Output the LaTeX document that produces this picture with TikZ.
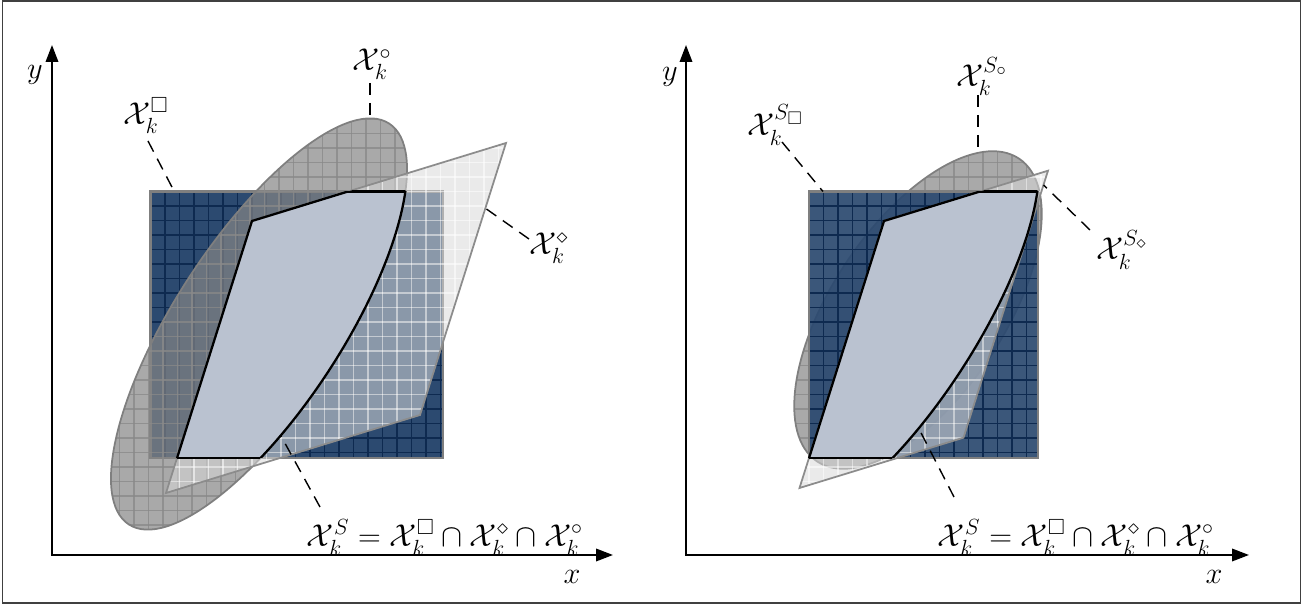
\documentclass[tikz,border=0pt]{standalone}
\usepackage{amsmath,amssymb}
\usetikzlibrary{arrows.meta}
\definecolor{navy}{HTML}{2C4A70}
\definecolor{navygrid}{HTML}{0E2A50}
\definecolor{elcol}{HTML}{858585}
\definecolor{elgridcol}{HTML}{8A8A8A}
\definecolor{pacol}{HTML}{D9D9D9}
\definecolor{intcol}{HTML}{BAC2D0}
\definecolor{bordercol}{HTML}{7F7F7F}
\newcommand{\mygrid}[3]{%
  \foreach \n in {-9,...,31} {\draw[#3] ({#1+\n*14.5},0) -- ({#1+\n*14.5},600);}%
  \foreach \n in {-13,...,29} {\draw[#3] ({#1-140},{#2-\n*14.5}) -- ({#1+460},{#2-\n*14.5});}%
}
\begin{document}
\begin{tikzpicture}[x=0.02cm,y=0.02cm,
  axis/.style={line width=1.1pt,{Triangle[length=0.34cm,width=0.25cm]}-{Triangle[length=0.34cm,width=0.25cm]}},
  leader/.style={line width=0.8pt,dash pattern=on 0.24cm off 0.16cm},
  lbl/.style={font=\LARGE,inner sep=0pt,scale=1.04},
  axlbl/.style={font=\LARGE,inner sep=0pt},
  sqgrid/.style={draw=navygrid,line width=0.6pt},
  elgrid/.style={draw=elgridcol,line width=0.6pt,draw opacity=0.8},
  pagrid/.style={draw=white,line width=0.6pt,draw opacity=0.55},
  sqborder/.style={draw=bordercol,line width=1.2pt},
  elborder/.style={draw=bordercol,line width=1pt},
  paborder/.style={draw=black!45,line width=1pt},
  intfill/.style={fill=intcol},
  intline/.style={draw=black,line width=1.3pt}]
\useasboundingbox (0,0) rectangle (1303,605);
\draw[line width=0.8pt,black!75] (2.5,2) rectangle (1300.5,604);

\def\sqL{(150.5,147) rectangle (443,413.5)}
\def\elL{(259,281) circle[x radius=239,y radius=84,rotate=57]}
\def\paraL{(166,112) -- (420,190) -- (506,462) -- (252,384) -- cycle}
\def\sqR{(809,147) rectangle (1038,413.5)}
\def\elR{(918,295) circle[x radius=182,y radius=86,rotate=56.3]}
\def\paraR{(799.5,117) -- (963.5,167.3) -- (1048,434.3) -- (884,384) -- cycle}

% ---------------- left panel ----------------
\fill[navy] \sqL;
\begin{scope}\clip \sqL; \mygrid{150.5}{413.5}{sqgrid}\end{scope}
\draw[sqborder] \sqL;
\fill[elcol,fill opacity=0.7] \elL;
\begin{scope}\clip \elL; \mygrid{148.5}{413.5}{elgrid}\end{scope}
\draw[elborder] \elL;
\fill[pacol,fill opacity=0.55] \paraL;
\begin{scope}\clip \paraL; \mygrid{150.5}{413.5}{pagrid}\end{scope}
\draw[paborder] \paraL;
% intersection
\begin{scope}\clip \sqL; \clip \paraL; \fill[intfill] \elL;\end{scope}
\begin{scope}\clip \paraL; \clip \elL; \draw[intline] \sqL;\end{scope}
\begin{scope}\clip \sqL; \clip \elL; \draw[intline] \paraL;\end{scope}
\begin{scope}\clip \sqL; \clip \paraL; \draw[intline] \elL;\end{scope}

% ---------------- right panel ----------------
\fill[elcol,fill opacity=0.7] \elR;
\begin{scope}\clip \elR; \mygrid{809}{413.5}{elgrid}\end{scope}
\draw[elborder] \elR;
\fill[navy,fill opacity=0.93] \sqR;
\begin{scope}\clip \sqR; \mygrid{809}{413.5}{sqgrid}\end{scope}
\draw[sqborder] \sqR;
\fill[pacol,fill opacity=0.55] \paraR;
\begin{scope}\clip \paraR; \mygrid{809}{413.5}{pagrid}\end{scope}
\draw[paborder] \paraR;
\begin{scope}[shift={(632,0)}]
\begin{scope}\clip \sqL; \clip \paraL; \fill[intfill] \elL;\end{scope}
\begin{scope}\clip \paraL; \clip \elL; \draw[intline] \sqL;\end{scope}
\begin{scope}\clip \sqL; \clip \elL; \draw[intline] \paraL;\end{scope}
\begin{scope}\clip \sqL; \clip \paraL; \draw[intline] \elL;\end{scope}
\end{scope}

% ---------------- axes ----------------
\coordinate (oL) at (52,50); \coordinate (xL) at (613,50); \coordinate (yL) at (52,560);
\draw[axis] (yL) -- (oL) -- (xL);
\node[axlbl] (ylabL) at (35,530) {$y$};
\node[axlbl] (xlabL) at (572,28) {$x$};
\coordinate (oR) at (686,50); \coordinate (xR) at (1249,50); \coordinate (yR) at (686,560);
\draw[axis] (yR) -- (oR) -- (xR);
\node[axlbl] (ylabR) at (670,528) {$y$};
\node[axlbl] (xlabR) at (1214,28) {$x$};

% ---------------- labels and leaders (left) ----------------
\node[lbl] (lcirc) at (372,540.5) {$\mathcal{X}_k^{\circ}$};
\node[lbl] (lsq) at (146,489.5) {$\mathcal{X}_k^{\square}$};
\node[lbl] (ldia) at (549,356.5) {$\mathcal{X}_k^{\diamond}$};
\node[lbl] (leq) at (445,67.5) {$\mathcal{X}_k^{S}=\mathcal{X}_k^{\square}\cap\mathcal{X}_k^{\diamond}\cap\mathcal{X}_k^{\circ}$};
\coordinate (a1) at (370,522); \coordinate (b1) at (370,487);
\coordinate (a2) at (148,464); \coordinate (b2) at (174,414);
\coordinate (a3) at (529,366); \coordinate (b3) at (485,397);
\coordinate (a4) at (320,98);  \coordinate (b4) at (281,169);
\draw[leader] (a1) -- (b1);
\draw[leader] (a2) -- (b2);
\draw[leader] (a3) -- (b3);
\draw[leader] (a4) -- (b4);

% ---------------- labels and leaders (right) ----------------
\node[lbl] (rcirc) at (982,528.5) {$\mathcal{X}_k^{S_\circ}$};
\node[lbl] (rsq) at (775.5,480) {$\mathcal{X}_k^{S_\square}$};
\node[lbl] (rdia) at (1122,355) {$\mathcal{X}_k^{S_\diamond}$};
\node[lbl] (req) at (1076,67.5) {$\mathcal{X}_k^{S}=\mathcal{X}_k^{\square}\cap\mathcal{X}_k^{\diamond}\cap\mathcal{X}_k^{\circ}$};
\coordinate (c1) at (978,510); \coordinate (d1) at (978,453);
\coordinate (c2) at (782,463); \coordinate (d2) at (823,413.5);
\coordinate (c3) at (1090,375); \coordinate (d3) at (1043.5,420);
\coordinate (c4) at (954,108); \coordinate (d4) at (918,178);
\draw[leader] (c1) -- (d1);
\draw[leader] (c2) -- (d2);
\draw[leader] (c3) -- (d3);
\draw[leader] (c4) -- (d4);
\end{tikzpicture}
\end{document}
